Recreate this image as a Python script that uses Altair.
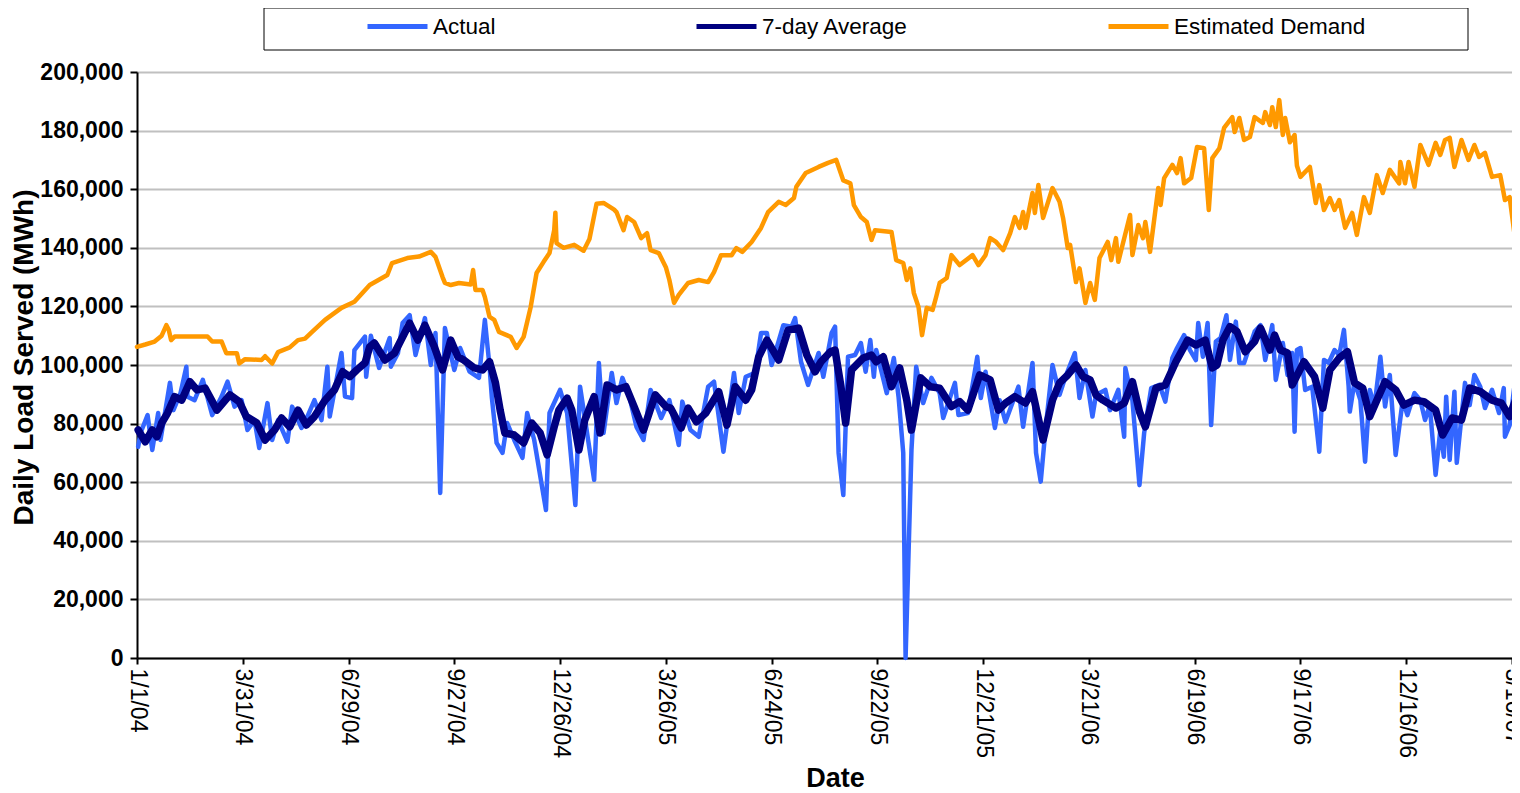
import altair as alt
import pandas as pd

# ---------------- data (values in thousands of MWh, x = days after 1/1/04) ----------------
SERIES = ["Actual", "7-day Average", "Estimated Demand"]
COLORS = ["#3366FF", "#000080", "#FF9900"]

tick_dates = ["2004-01-01", "2004-03-31", "2004-06-29", "2004-09-27", "2004-12-26",
              "2005-03-26", "2005-06-24", "2005-09-22", "2005-12-21", "2006-03-21",
              "2006-06-19", "2006-09-17", "2006-12-16", "2007-03-16"]
y_ticks = [0, 20000, 40000, 60000, 80000, 100000, 120000, 140000, 160000, 180000, 200000]

est_day = [0, 7, 15, 21, 25, 27, 29, 32, 60, 64,
           72, 76, 85, 87, 92, 106, 109, 115, 120, 130,
           137, 143, 149, 160, 174, 185, 198, 213, 217, 230,
           240, 250, 254, 260, 262, 267, 274, 284, 286, 288,
           294, 296, 300, 304, 308, 318, 323, 329, 335, 340,
           346, 351, 355, 356, 357, 363, 372, 380, 385, 391,
           397, 406, 408, 414, 417, 423, 429, 434, 437, 444,
           450, 453, 457, 461, 469, 478, 486, 491, 497, 506,
           510, 515, 523, 531, 537, 546, 552, 559, 561, 569,
           580, 588, 595, 601, 607, 610, 616, 621, 625, 628,
           642, 646, 652, 655, 658, 661, 665, 668, 672, 677,
           680, 683, 689, 693, 700, 711, 716, 722, 726, 731,
           737, 743, 747, 751, 754, 756, 762, 764, 767, 771,
           779, 785, 788, 792, 794, 799, 802, 807, 811, 815,
           819, 826, 829, 833, 835, 845, 847, 852, 856, 858,
           862, 869, 871, 874, 881, 885, 888, 891, 897, 902,
           908, 912, 915, 921, 925, 932, 934, 938, 942, 947,
           951, 958, 960, 964, 966, 969, 972, 975, 977, 981,
           985, 987, 990, 998, 1003, 1006, 1010, 1015, 1019, 1023,
           1028, 1034, 1038, 1044, 1049, 1055, 1060, 1066, 1074, 1075,
           1079, 1082, 1087, 1092, 1099, 1105, 1109, 1113, 1117, 1121,
           1127, 1133, 1138, 1142, 1147, 1153, 1160, 1164, 1168, 1172,
           1174]
est_val = [106.2, 107, 108, 110, 113.6, 112, 108.5, 109.7, 109.7, 108,
           108, 104, 104, 100.5, 102, 101.7, 103, 100.5, 104.4, 106,
           108.5, 109, 111.3, 115.4, 119.5, 121.6, 127.3, 130.7, 134.8, 136.5,
           137, 138.6, 136.9, 130, 128, 127.3, 128, 127.5, 132.4, 125.6,
           125.6, 123.2, 116.4, 115.4, 111.3, 109.6, 105.8, 109.6, 119.8, 131.4,
           135.2, 138.2, 146, 152, 141.6, 140, 141, 139, 143, 155,
           155.3, 153, 152.2, 146, 150.5, 148.8, 143.3, 145, 139.2, 138.2,
           133.4, 129, 121.2, 123.9, 128, 129, 128.3, 131.7, 137.5, 137.5,
           139.9, 138.6, 142, 146.8, 152.2, 155.7, 154.6, 157, 160.8, 165.5,
           167.6, 169, 170, 163, 162, 154.6, 150.5, 148.8, 142.7, 146,
           145.4, 135.8, 134.8, 129, 133, 124.6, 119.8, 110.2, 119.5, 118.8,
           123.2, 128, 129.7, 137.5, 134.1, 137.5, 134.1, 137.5, 143.3, 142,
           139.2, 145, 150.5, 146.8, 152.2, 146.8, 158.7, 151.9, 161.4, 150.2,
           160.4, 155.7, 150.2, 139.9, 141, 128.3, 133, 121.2, 128, 122.2,
           136.5, 142, 135.8, 143.3, 135.2, 151.2, 137.5, 147.8, 143.3, 148.8,
           138.6, 160.4, 154.6, 163.8, 168.3, 165.5, 170.6, 162, 163.8, 174.4,
           174, 152.9, 170.6, 174, 180.9, 184.6, 179.5, 184.3, 176.8, 177.8,
           184.6, 182.6, 186.3, 181.9, 188, 181.2, 190.4, 178.5, 184.3, 176,
           178.5, 168, 164.2, 167.6, 155.3, 161.4, 152.9, 157, 152.9, 156.3,
           146.8, 151.9, 144.4, 157.3, 151.9, 164.8, 158.7, 166.6, 162, 169.3,
           162, 169.3, 160.8, 175.1, 168.3, 175.8, 171.7, 176.8, 177.5, 167.6,
           176.8, 170, 175.1, 171, 172.4, 164.2, 164.8, 156.3, 157.3, 145,
           136.9]

avg_day = [1, 7, 13, 17, 21, 26, 32, 38, 45, 51,
           58, 68, 79, 87, 93, 102, 109, 117, 123, 130,
           137, 144, 151, 160, 168, 175, 181, 187, 194, 198,
           202, 211, 219, 232, 239, 245, 253, 260, 267, 273,
           278, 287, 294, 300, 305, 309, 313, 321, 329, 336,
           343, 349, 355, 359, 366, 370, 376, 381, 389, 394,
           400, 408, 416, 423, 431, 441, 450, 454, 463, 469,
           476, 484, 495, 502, 509, 518, 523, 529, 536, 546,
           554, 563, 570, 577, 582, 590, 594, 599, 603, 608,
           618, 625, 629, 635, 642, 649, 655, 659, 667, 675,
           683, 693, 700, 707, 717, 726, 733, 739, 747, 756,
           762, 771, 779, 785, 792, 799, 805, 811, 816, 822,
           833, 840, 847, 853, 858, 867, 875, 884, 894, 901,
           909, 915, 919, 924, 930, 936, 943, 951, 956, 964,
           968, 973, 979, 983, 993, 1002, 1009, 1015, 1023, 1030,
           1036, 1043, 1049, 1055, 1062, 1071, 1078, 1087, 1095, 1105,
           1111, 1119, 1127, 1134, 1143, 1153, 1161, 1168, 1174]
avg_val = [77.8, 73.8, 77.8, 75.5, 80.2, 83.6, 89.2, 88, 94.3, 91.5,
           92.1, 84.6, 89.8, 87.5, 82.4, 80.2, 74.4, 77.8, 81.9, 78.9,
           84.6, 79.5, 82.4, 88, 91.5, 97.7, 96, 98.3, 100.7, 106.2,
           107.5, 101.7, 104, 114.3, 108.5, 113.6, 106.2, 98.3, 108.5, 102.8,
           101.7, 99, 98.3, 101.1, 93.9, 84.6, 76.8, 76.1, 73.4, 80.2,
           76.8, 69.3, 78.9, 84.6, 88.7, 84.6, 71, 81.2, 89.2, 76.8,
           93.2, 91.5, 92.6, 85.8, 77.8, 89.8, 85.8, 85.3, 78.5, 85.3,
           80.6, 83.6, 90.9, 79.5, 92.6, 88, 91.5, 102.8, 108.5, 101.7,
           111.9, 112.6, 103.4, 97.7, 101.1, 104.5, 105.1, 92.6, 80.2, 98.3,
           102.4, 103.4, 101.1, 102.8, 92.6, 99, 88, 77.8, 95.6, 92.6,
           92.1, 85.8, 87.5, 84.6, 96.6, 94.9, 84.6, 87, 89.2, 87,
           90.9, 74.4, 88, 93.9, 96.6, 100, 96, 94.9, 89.8, 88,
           85.3, 87, 94.3, 84.1, 78.9, 92.1, 93.2, 101.1, 108.5, 106.8,
           108.5, 99, 100, 108.5, 113.1, 111.4, 104.5, 108, 112.6, 105.1,
           110.2, 105.1, 104.1, 93.2, 101.1, 96, 85.3, 98.3, 102.4, 104.5,
           93.9, 92.1, 82.4, 88, 94.3, 91.5, 86.3, 88, 87.5, 84.6,
           76.1, 81.9, 81.2, 92.1, 90.9, 88, 87, 82.4, 89.2]

act_day = [1, 3, 9, 13, 18, 20, 28, 31, 37, 42,
           43, 49, 56, 64, 72, 77, 83, 89, 94, 100,
           104, 111, 115, 120, 128, 132, 140, 145, 151, 157,
           162, 164, 174, 177, 183, 185, 194, 195, 199, 206,
           215, 216, 222, 226, 232, 237, 245, 250, 254, 258,
           262, 270, 275, 283, 291, 296, 300, 302, 306, 311,
           315, 321, 328, 332, 338, 348, 351, 360, 366, 373,
           377, 389, 393, 397, 404, 408, 413, 419, 425, 431,
           437, 446, 453, 461, 464, 471, 478, 486, 491, 499,
           508, 512, 518, 526, 531, 536, 540, 550, 557, 560,
           565, 571, 580, 584, 591, 594, 597, 601, 605, 611,
           616, 620, 624, 627, 629, 638, 644, 648, 652, 654,
           659, 663, 669, 676, 683, 686, 696, 699, 707, 715,
           718, 722, 730, 734, 739, 750, 754, 762, 765, 769,
           773, 779, 785, 790, 798, 802, 807, 813, 816, 824,
           828, 835, 840, 841, 847, 853, 857, 863, 870, 875,
           881, 885, 891, 896, 901, 903, 907, 911, 914, 918,
           922, 927, 930, 935, 938, 942, 951, 956, 960, 966,
           969, 975, 979, 983, 985, 987, 990, 994, 1000, 1006,
           1010, 1014, 1019, 1023, 1027, 1031, 1032, 1036, 1041, 1045,
           1049, 1053, 1058, 1062, 1066, 1071, 1077, 1081, 1087, 1092,
           1096, 1100, 1105, 1109, 1112, 1114, 1117, 1121, 1123, 1130,
           1134, 1138, 1143, 1147, 1153, 1159, 1163, 1164, 1168, 1172,
           1174]
act_val = [72.1, 76.8, 82.9, 71, 83.6, 74.4, 93.9, 84.6, 90.4, 99.4,
           89.2, 88, 94.9, 82.9, 89.2, 94.3, 85.8, 88, 77.8, 81.2,
           71.7, 87, 74.4, 81.2, 73.8, 85.8, 78.5, 82.4, 88, 81.2,
           99.4, 82.4, 104.1, 89.2, 88.7, 105.1, 109.7, 96, 110, 99,
           109.2, 99.4, 104, 114.3, 117, 103.4, 116, 100, 110.9, 56.3,
           112.6, 98.3, 105.8, 97.7, 95.6, 115.4, 99.4, 88.7, 73.4, 70,
           80.2, 74.4, 68.3, 83.6, 74.4, 50.5, 83.6, 91.5, 83.6, 52.2,
           92.6, 60.8, 100.7, 76.8, 97.3, 87, 95.6, 89.2, 78.9, 74.4,
           91.5, 81.9, 88, 72.7, 87.5, 77.8, 75.5, 92.6, 94.3, 70.4,
           97.3, 83.6, 96, 97.3, 110.9, 110.9, 100, 113.6, 113.1, 116,
           101.1, 93.2, 104.1, 96, 110.9, 113.1, 70, 55.6, 102.8, 103.4,
           107.5, 97.7, 108.5, 96, 105.1, 90.4, 102.4, 89.2, 70, 0,
           71, 99.4, 87, 95.6, 90.4, 81.9, 93.9, 82.9, 83.6, 102.8,
           88.7, 97.7, 78.5, 88, 80.6, 92.6, 78.9, 100.7, 70, 60.2,
           77.8, 100, 89.8, 96, 104.1, 88.7, 98.3, 82.4, 89.8, 91.5,
           84.6, 91.5, 75.5, 99, 88, 59, 76.8, 92.1, 93.2, 87.5,
           102.4, 105.8, 110.2, 105.1, 101.7, 114.3, 102.8, 114.3, 79.5, 108,
           109.2, 117, 101.7, 114.8, 100.7, 100.7, 111.4, 113.6, 101.7, 113.6,
           94.9, 107.5, 96.6, 104.1, 77.2, 105.1, 105.8, 91.5, 92.6, 70.4,
           101.7, 100.7, 105.1, 103.4, 112, 92.6, 84.1, 94.3, 88, 67,
           91.5, 85.8, 102.8, 85.8, 96.6, 69.3, 88, 82.9, 90.4, 88,
           81.2, 86.3, 62.5, 77.8, 68.7, 89.2, 67.6, 90.9, 66.6, 93.9,
           86.3, 96.6, 92.6, 85.3, 91.5, 83.6, 92.1, 75.5, 79.5, 92.6,
           97.3]

assert len(est_day) == len(est_val)
assert len(avg_day) == len(avg_val)
assert len(act_day) == len(act_val)

START = pd.Timestamp("2004-01-01")


def to_dates(days):
    return [(START + pd.Timedelta(days=int(d))).strftime("%Y-%m-%d") for d in days]


def frame(name, days, vals):
    return pd.DataFrame({"series": name, "date": to_dates(days),
                         "value": [v * 1000 for v in vals]})


data = pd.concat([frame("Actual", act_day, act_val),
                  frame("7-day Average", avg_day, avg_val),
                  frame("Estimated Demand", est_day, est_val)], ignore_index=True)


def dt(s):
    t = pd.Timestamp(s)
    return alt.DateTime(year=t.year, month=t.month, date=t.day, utc=True)


FONT = "Liberation Sans"

x_enc = alt.X(
    "date:T",
    scale=alt.Scale(type="utc", domain=[dt("2004-01-01"), dt("2007-03-16")]),
    axis=alt.Axis(values=[dt(s) for s in tick_dates], format="%-m/%-d/%y",
                  labelAngle=90, labelFontSize=23, labelFont=FONT, labelColor="black",
                  labelFontWeight="normal", labelOverlap=False, labelFlush=False,
                  labelPadding=4, tickSize=6, tickColor="black", tickWidth=2,
                  domainColor="black", domainWidth=2, grid=False,
                  title="Date", titleFont=FONT, titleFontSize=27, titleFontWeight="bold",
                  titleColor="black", titleX=698, titleY=120, titleBaseline="middle",
                  titleAlign="center"),
)
y_enc = alt.Y(
    "value:Q",
    scale=alt.Scale(domain=[0, 200000], nice=False),
    axis=alt.Axis(values=y_ticks, format=",d", labelFontSize=23, labelFont=FONT,
                  labelFontWeight="bold", labelColor="black", labelPadding=7,
                  labelFlush=False, tickSize=7, tickColor="black", tickWidth=2,
                  domainColor="black", domainWidth=2, grid=True, gridColor="#C0C0C0",
                  gridWidth=2, title="Daily Load Served (MWh)", titleFont=FONT,
                  titleFontSize=28, titleFontWeight="bold", titleColor="black",
                  titleX=-113, titleY=285, titleBaseline="middle", titleAlign="center"),
)
color_enc = alt.Color(
    "series:N",
    scale=alt.Scale(domain=SERIES, range=COLORS),
    legend=alt.Legend(orient="none", legendX=228, legendY=-78, direction="horizontal",
                      columns=3, title=None, symbolType="stroke", symbolSize=3600,
                      symbolStrokeWidth=5, labelFontSize=22.5, labelFont=FONT,
                      labelColor="black", labelOffset=3, labelLimit=0,
                      columnPadding=190, padding=0),
)

base = alt.Chart(data).encode(x=x_enc, y=y_enc, color=color_enc)

est_line = base.transform_filter(alt.datum.series == "Estimated Demand").mark_line(
    strokeWidth=4.5, strokeJoin="round", strokeCap="round")
act_line = base.transform_filter(alt.datum.series == "Actual").mark_line(
    strokeWidth=4.5, strokeJoin="round", strokeCap="round")
avg_line = base.transform_filter(alt.datum.series == "7-day Average").mark_line(
    strokeWidth=7.5, strokeJoin="round", strokeCap="round")

legend_frame = alt.Chart(pd.DataFrame({"k": [0]})).mark_rect(
    fill="white", stroke="black", strokeWidth=1).encode(
    x=alt.value(127), x2=alt.value(1331), y=alt.value(-64), y2=alt.value(-22))

chart = alt.layer(legend_frame, est_line, act_line, avg_line).properties(
    width=1375, height=586,
    padding={"left": 129, "top": 64, "right": 0, "bottom": 140},
    autosize=alt.AutoSizeParams(type="none"),
    background="white",
).configure_view(stroke=None)

chart.save("out.html", embed_options={"renderer": "svg", "actions": False})
